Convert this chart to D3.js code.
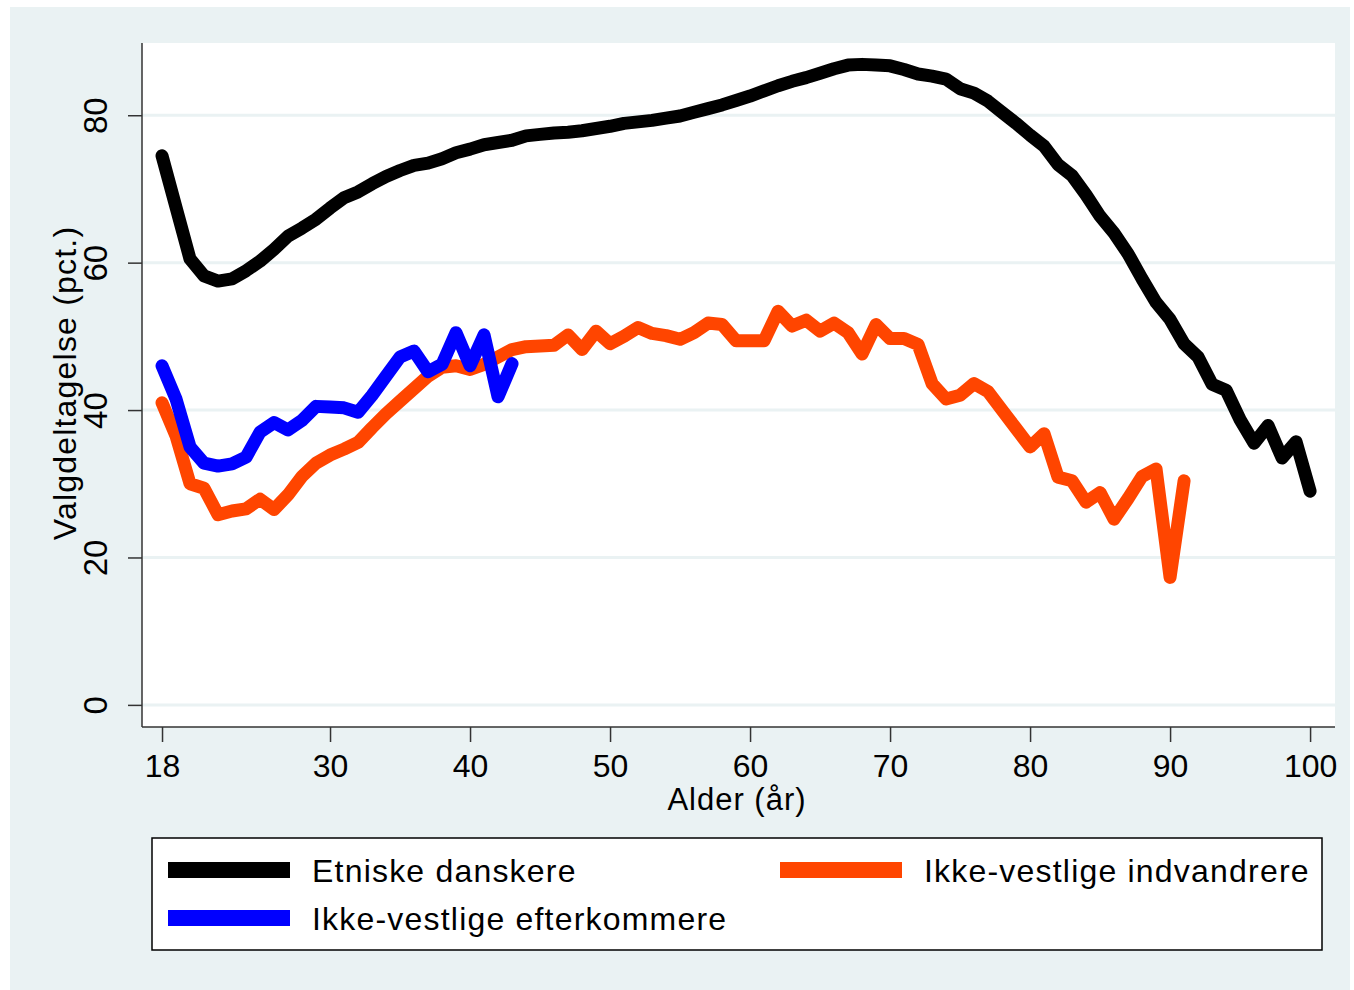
<!DOCTYPE html>
<html>
<head>
<meta charset="utf-8">
<script src="https://cdn.jsdelivr.net/npm/d3@7"></script>
<style>
  body { margin: 0; background: #fff; }
  text { font-family: "Liberation Sans", Arial, sans-serif; fill: #000; }
</style>
</head>
<body>
<div id="chart"></div>
<script>
// alder 18..100
const ageDanskere = d3.range(18, 101);
const danskere = [74.5, 67.5, 60.5, 58.2, 57.5, 57.8, 58.9, 60.2, 61.8, 63.6,
  64.7, 65.9, 67.4, 68.8, 69.6, 70.7, 71.7, 72.5, 73.2, 73.5,
  74.1, 74.9, 75.4, 76.0, 76.3, 76.6, 77.2, 77.4, 77.6, 77.7,
  77.9, 78.2, 78.5, 78.9, 79.1, 79.3, 79.6, 79.9, 80.4, 80.9,
  81.4, 82.0, 82.6, 83.3, 84.0, 84.6, 85.1, 85.7, 86.3, 86.8,
  86.9, 86.8, 86.7, 86.2, 85.6, 85.3, 84.9, 83.6, 83.0, 81.9,
  80.4, 78.9, 77.3, 75.8, 73.3, 71.8, 69.2, 66.3, 64.0, 61.2,
  57.8, 54.6, 52.3, 49.0, 47.2, 43.5, 42.7, 38.7, 35.5, 37.9,
  33.5, 35.7, 29.0];

// alder 18..91
const ageIndvandrere = d3.range(18, 92);
const indvandrere = [41.0, 36.5, 30.0, 29.4, 25.8, 26.3, 26.6, 27.9, 26.5, 28.5,
  31.0, 32.8, 33.9, 34.7, 35.6, 37.6, 39.5, 41.2, 42.9, 44.6,
  45.8, 46.0, 45.5, 46.2, 47.2, 48.2, 48.6, 48.7, 48.8, 50.2,
  48.2, 50.7, 49.0, 50.0, 51.2, 50.4, 50.1, 49.6, 50.5, 51.8,
  51.6, 49.4, 49.4, 49.4, 53.4, 51.4, 52.2, 50.7, 51.8, 50.5,
  47.6, 51.6, 49.7, 49.7, 48.9, 43.6, 41.5, 42.0, 43.6, 42.5,
  40.0, 37.5, 35.0, 36.8, 30.9, 30.4, 27.5, 28.8, 25.2, 28.0,
  31.0, 32.0, 17.3, 30.4];

// alder 18..43
const ageEfterkommere = d3.range(18, 44);
const efterkommere = [46.0, 41.5, 35.0, 32.8, 32.4, 32.7, 33.6, 37.0, 38.3, 37.3,
  38.6, 40.5, 40.4, 40.3, 39.7, 42.0, 44.6, 47.2, 48.0, 45.2,
  46.2, 50.5, 46.0, 50.2, 41.8, 46.3];

const xTicks = [18, 30, 40, 50, 60, 70, 80, 90, 100];
const yTicks = [0, 20, 40, 60, 80];

const seriesNames = ["Etniske danskere", "Ikke-vestlige indvandrere", "Ikke-vestlige efterkommere"];
const seriesColors = ["#000000", "#ff4500", "#0000ff"];

const W = 1354, H = 990;
const plot = { left: 142, top: 43, right: 1335, bottom: 727 };

const svg = d3.select("#chart").append("svg")
  .attr("width", W).attr("height", H);

// graph region background
svg.append("rect")
  .attr("x", 10).attr("y", 7).attr("width", 1340).attr("height", 983)
  .attr("fill", "#eaf2f3");

svg.append("rect")
  .attr("x", plot.left).attr("y", plot.top)
  .attr("width", plot.right - plot.left).attr("height", plot.bottom - plot.top)
  .attr("fill", "#fff");

const x = d3.scaleLinear().domain([16.57, 101.78]).range([plot.left, plot.right]);
const y = d3.scaleLinear().domain([-3, 89.8]).range([plot.bottom, plot.top]);

// grid
svg.append("g").selectAll("line")
  .data(yTicks)
  .enter().append("line")
  .attr("x1", plot.left).attr("x2", plot.right)
  .attr("y1", d => y(d)).attr("y2", d => y(d))
  .attr("stroke", "#eaf2f3").attr("stroke-width", 3);

// axes
const yAxis = svg.append("g")
  .attr("transform", `translate(${plot.left},0)`)
  .call(d3.axisLeft(y).tickValues(yTicks).tickSize(14).tickPadding(0).tickFormat(d3.format("d")));
yAxis.select(".domain").attr("d", `M0,${plot.top}V${plot.bottom}`).attr("stroke", "#333").attr("stroke-width", 1.5);
yAxis.selectAll(".tick line").attr("stroke", "#333").attr("stroke-width", 1.5);
yAxis.selectAll(".tick text")
  .attr("x", 0).attr("dy", 0)
  .attr("transform", "translate(-44,0) rotate(-90)")
  .attr("text-anchor", "middle")
  .attr("dominant-baseline", "middle")
  .style("font-size", "33px");

const xAxis = svg.append("g")
  .attr("transform", `translate(0,${plot.bottom})`)
  .call(d3.axisBottom(x).tickValues(xTicks).tickSize(15).tickPadding(0).tickFormat(d3.format("d")));
xAxis.select(".domain").attr("d", `M${plot.left},0H${plot.right}`).attr("stroke", "#333").attr("stroke-width", 1.5);
xAxis.selectAll(".tick line").attr("stroke", "#333").attr("stroke-width", 1.5);
xAxis.selectAll(".tick text")
  .attr("y", 50).attr("dy", 0)
  .style("font-size", "32px");

svg.selectAll(".tick text").style("font-family", "'Liberation Sans', Arial, sans-serif").attr("fill", "#000");

// axis titles
svg.append("text")
  .attr("x", 737).attr("y", 810)
  .attr("text-anchor", "middle")
  .style("font-size", "31px").style("letter-spacing", "1px")
  .text("Alder (år)");

svg.append("text")
  .attr("transform", "translate(76,383) rotate(-90)")
  .attr("text-anchor", "middle")
  .style("font-size", "32px").style("letter-spacing", "1.2px")
  .text("Valgdeltagelse (pct.)");

// lines
const line = d3.line().x(d => x(d[0])).y(d => y(d[1]));
const lineData = [
  d3.zip(ageDanskere, danskere),
  d3.zip(ageIndvandrere, indvandrere),
  d3.zip(ageEfterkommere, efterkommere)
];

svg.append("g").selectAll("path")
  .data(lineData)
  .enter().append("path")
  .attr("d", line)
  .attr("fill", "none")
  .attr("stroke", (d, i) => seriesColors[i])
  .attr("stroke-width", 13)
  .attr("stroke-linejoin", "round")
  .attr("stroke-linecap", "round");

// legend
const legend = svg.append("g");
legend.append("rect")
  .attr("x", 152).attr("y", 838).attr("width", 1170).attr("height", 112)
  .attr("fill", "#fff").attr("stroke", "#000").attr("stroke-width", 1.5);

const legendPos = [
  { x: 168, y: 870 },
  { x: 780, y: 870 },
  { x: 168, y: 918 }
];

const items = legend.selectAll("g.item")
  .data(seriesNames)
  .enter().append("g")
  .attr("class", "item")
  .attr("transform", (d, i) => `translate(${legendPos[i].x},${legendPos[i].y})`);

items.append("rect")
  .attr("x", 0).attr("y", -8).attr("width", 122).attr("height", 16)
  .attr("fill", (d, i) => seriesColors[i]);

items.append("text")
  .attr("x", 144).attr("y", 12)
  .style("font-size", "32px").style("letter-spacing", "1.2px")
  .text(d => d);
</script>
</body>
</html>
